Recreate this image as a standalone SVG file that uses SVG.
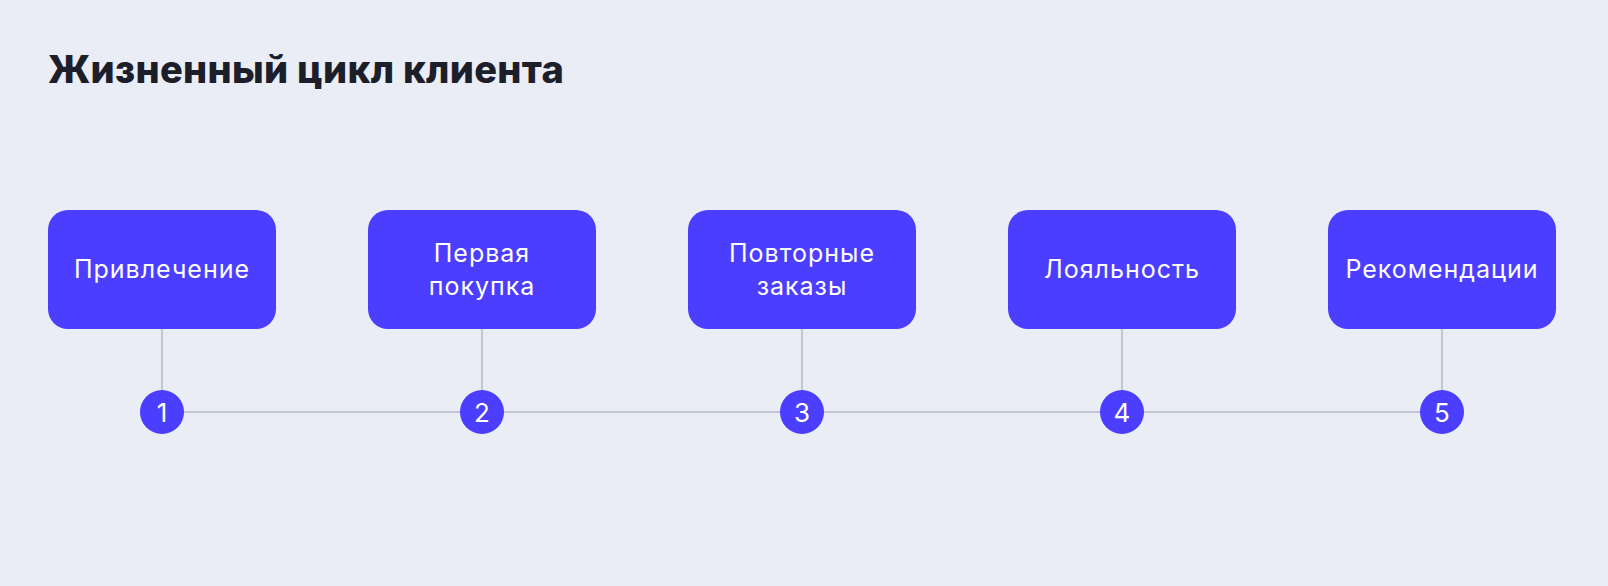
<svg xmlns="http://www.w3.org/2000/svg" width="1608" height="586" viewBox="0 0 1608 586">
<style>
.bg{fill:#EAEDF5}
.title{font-family:Inter,"Noto Sans",sans-serif;font-weight:800;font-size:38px;fill:#1C1F2A;letter-spacing:0.3px}
.box{fill:#4B3EFF}
.lbl{font-family:Inter,"Noto Sans",sans-serif;font-size:25px;fill:#FFFFFF;text-anchor:middle;letter-spacing:1px}
.num{font-family:Inter,"Noto Sans",sans-serif;font-size:26px;fill:#FFFFFF;text-anchor:middle}
.dot{fill:#4B3EFF}
.ln{stroke:#BFC8D0;stroke-width:2;fill:none}
</style>
<rect class="bg" x="0" y="0" width="1608" height="586"/>
<text class="title" x="48" y="83">Жизненный цикл клиента</text>
<g id="connectors">
<line class="ln" x1="162" y1="412" x2="1442" y2="412"/>
<line class="ln" x1="162" y1="329" x2="162" y2="412"/>
<line class="ln" x1="482" y1="329" x2="482" y2="412"/>
<line class="ln" x1="802" y1="329" x2="802" y2="412"/>
<line class="ln" x1="1122" y1="329" x2="1122" y2="412"/>
<line class="ln" x1="1442" y1="329" x2="1442" y2="412"/>
</g>
<g id="node1"><rect class="box" x="48" y="210" width="228" height="119" rx="20"/><text class="lbl" x="162" y="278">Привлечение</text></g>
<g id="node2"><rect class="box" x="368" y="210" width="228" height="119" rx="20"/><text class="lbl" x="482" y="262">Первая</text><text class="lbl" x="482" y="295">покупка</text></g>
<g id="node3"><rect class="box" x="688" y="210" width="228" height="119" rx="20"/><text class="lbl" x="802" y="262">Повторные</text><text class="lbl" x="802" y="295">заказы</text></g>
<g id="node4"><rect class="box" x="1008" y="210" width="228" height="119" rx="20"/><text class="lbl" x="1122" y="278">Лояльность</text></g>
<g id="node5"><rect class="box" x="1328" y="210" width="228" height="119" rx="20"/><text class="lbl" x="1442" y="278">Рекомендации</text></g>
<g id="step1"><circle class="dot" cx="162" cy="412" r="22"/><text class="num" x="162" y="421.5">1</text></g>
<g id="step2"><circle class="dot" cx="482" cy="412" r="22"/><text class="num" x="482" y="421.5">2</text></g>
<g id="step3"><circle class="dot" cx="802" cy="412" r="22"/><text class="num" x="802" y="421.5">3</text></g>
<g id="step4"><circle class="dot" cx="1122" cy="412" r="22"/><text class="num" x="1122" y="421.5">4</text></g>
<g id="step5"><circle class="dot" cx="1442" cy="412" r="22"/><text class="num" x="1442" y="421.5">5</text></g>
</svg>
